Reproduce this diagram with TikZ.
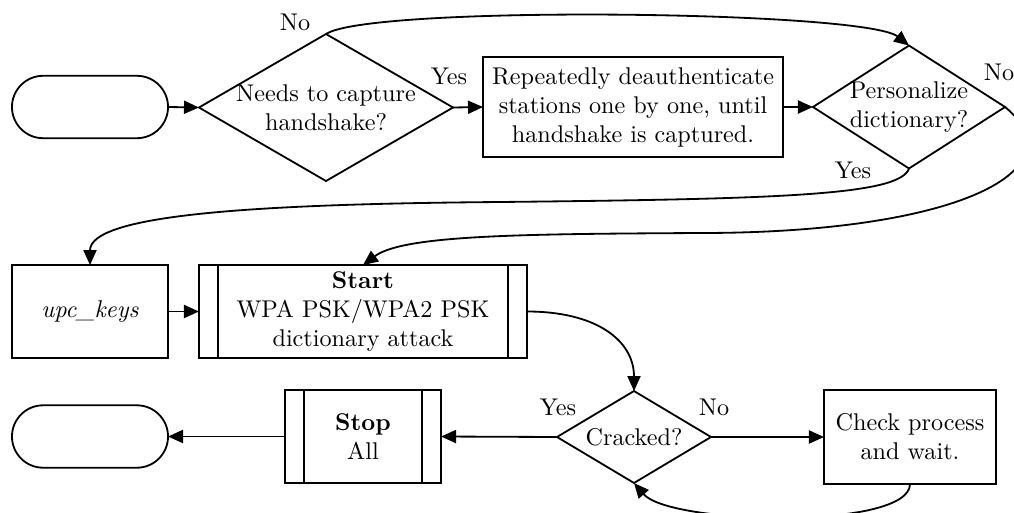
\documentclass[tikz,border=0pt]{standalone}
\usetikzlibrary{shapes.geometric,arrows.meta}
\begin{document}
\begin{tikzpicture}[x=0.4133pt, y=-0.4133pt,
  base/.style={draw, line width=0.75pt, inner sep=0pt, outer sep=0pt, align=center},
  terminal/.style={base, rectangle, rounded corners=12.9pt, minimum width=64.5pt, minimum height=25.8pt},
  procbox/.style={base, rectangle},
  decision/.style={base, diamond},
  conn/.style={line width=0.75pt, -{Triangle[length=6.2pt,width=5.4pt]}},
  tag/.style={inner sep=0pt}
]
\clip (0,0) rectangle (1014,512);

% nodes
\node[terminal] (begin) at (90,107) {};
\node[decision, minimum width=105pt, minimum height=60.75pt,
      label={[align=center]center:Needs to capture\\handshake?}] (needs) at (326,107.5) {};
\node[procbox, minimum width=124pt, minimum height=41.3pt] (deauth) at (633,107)
  {Repeatedly deauthenticate\\stations one by one, until\\handshake is captured.};
\node[decision, minimum width=79.4pt, minimum height=50.8pt,
      label={[align=center]center:Personalize\\dictionary?}] (pers) at (909,107) {};
\node[procbox, minimum width=64.5pt, minimum height=38.4pt] (upc) at (90,311.5) {\textit{upc\_keys}};
\node[procbox, minimum width=135.6pt, minimum height=38.4pt] (attack) at (363,311.5)
  {\textbf{Start}\\WPA PSK/WPA2 PSK\\dictionary attack};
\node[decision, minimum width=63.65pt, minimum height=38pt,
      label={center:Cracked?}] (cracked) at (634,437) {};
\node[procbox, minimum width=71.1pt, minimum height=38.85pt] (check) at (910,437) {Check process\\and wait.};
\node[procbox, minimum width=64.5pt, minimum height=38.4pt] (stopall) at (363,436.5) {\textbf{Stop}\\All};
\node[terminal] (finish) at (90,436.5) {};

% predefined-process side bars
\foreach \n in {attack,stopall}{
  \draw[line width=0.75pt] ([xshift=7.85pt]\n.north west) -- ([xshift=7.85pt]\n.south west);
  \draw[line width=0.75pt] ([xshift=-7.85pt]\n.north east) -- ([xshift=-7.85pt]\n.south east);
}

% branch labels
\node[tag] (n1) at (295,22) {No};
\node[tag] (y1) at (449,76) {Yes};
\node[tag] (n2) at (999,72) {No};
\node[tag] (y2) at (853,170) {Yes};
\node[tag] (y3) at (558,407) {Yes};
\node[tag] (n3) at (714,407) {No};

% connectors
\draw[conn] (begin.east) -- (needs.west);
\draw[conn] (needs.east) -- (deauth.west);
\draw[conn] (deauth.east) -- (pers.west);
\draw[conn] (needs.north) .. controls +(44,-29) and +(-44,-35) .. (pers.north);
\draw[conn] (pers.south) .. controls +(-9,27) and +(280,-3) .. (500,202)
                         .. controls +(-250,2) and +(0,-50) .. (upc.north);
\draw[conn] (pers.east) .. controls +(75,62) and +(260,0) .. (700,233)
                        .. controls +(-180,1) and +(40,-30) .. (attack.north);
\draw[conn] (upc.east) -- (attack.west);
\draw[conn] (attack.east) .. controls +(70,0) and +(0,-50) .. (cracked.north);
\draw[conn] (cracked.west) -- (stopall.east);
\draw[conn] (stopall.west) -- (finish.east);
\draw[conn] (cracked.east) -- (check.west);
\draw[conn] (check.south) .. controls +(0,46) and +(36,42) .. (cracked.south);
\end{tikzpicture}
\end{document}
